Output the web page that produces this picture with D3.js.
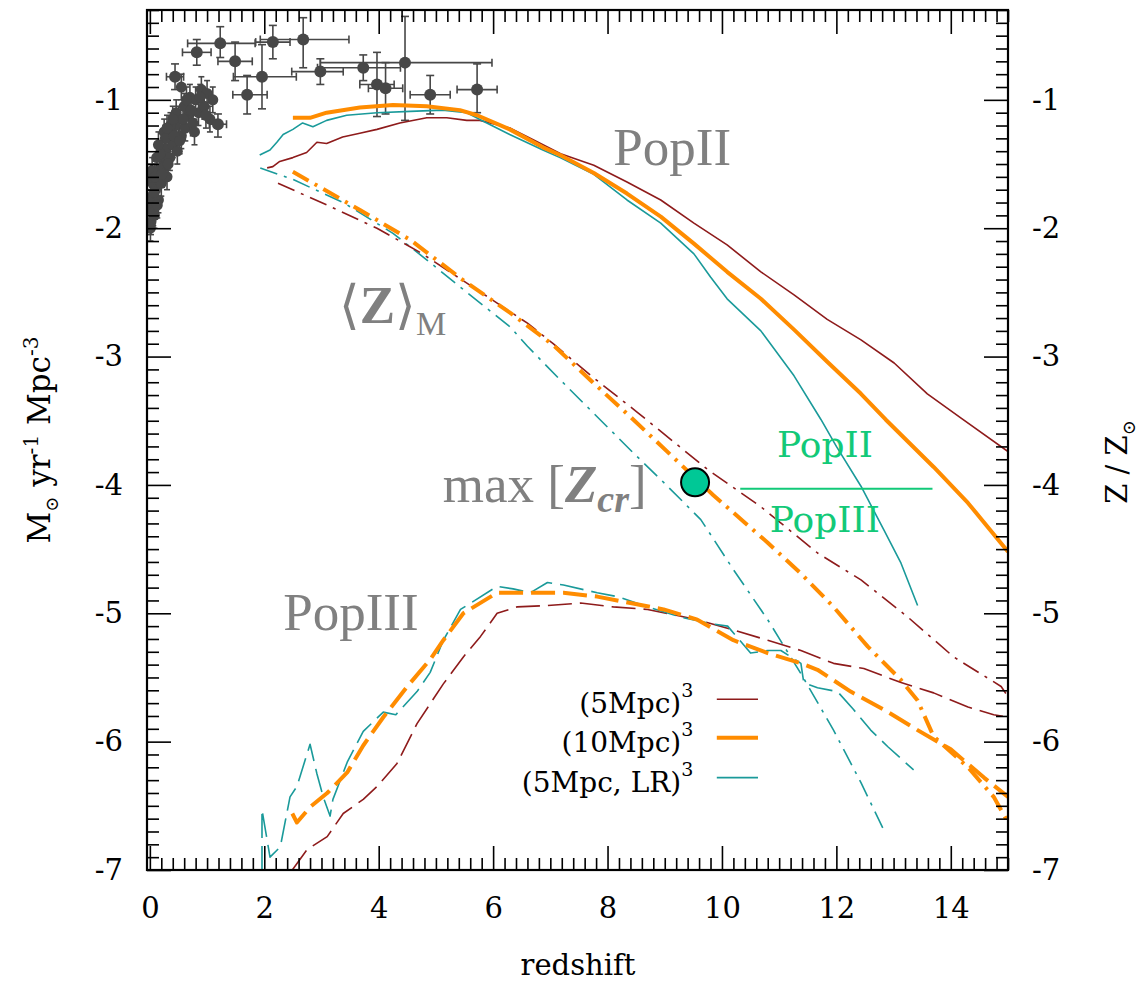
<!DOCTYPE html>
<html>
<head>
<meta charset="utf-8">
<script src="https://cdn.jsdelivr.net/npm/d3@7"></script>
<style>
  body { margin: 0; background: #fff; }
  .tick text { font-family: "DejaVu Serif", serif; font-size: 29px; fill: #000; }
</style>
</head>
<body>
<svg id="chart" width="1142" height="983"></svg>
<script>
// ---- data (redshift vs log value) ----
const xTicks = [0, 2, 4, 6, 8, 10, 12, 14];
const yTicks = [-7, -6, -5, -4, -3, -2, -1];

// PopII star formation rate (solid)
const popII_5_z   = [2.05,2.15,2.27,2.5,2.74,2.92,3.09,3.37,3.67,3.97,4.37,4.84,5.19,5.54,5.77,6.3,6.7,7.18,7.76,8.34,8.93,9.51,10.09,10.68,11.26,11.84,12.43,13.01,13.59,14.18,15.0];
const popII_5_v   = [-1.53,-1.52,-1.48,-1.45,-1.41,-1.33,-1.34,-1.29,-1.26,-1.23,-1.18,-1.14,-1.14,-1.16,-1.16,-1.22,-1.31,-1.42,-1.51,-1.64,-1.78,-1.96,-2.13,-2.34,-2.52,-2.71,-2.87,-3.05,-3.29,-3.48,-3.74];
const popII_10_z  = [2.5,2.8,3.09,3.67,4.25,4.84,5.42,5.72,6.29,6.87,7.17,7.76,8.34,8.93,9.51,10.09,10.68,11.26,11.84,12.43,12.86,13.7,14.3,15.0];
const popII_10_v  = [-1.14,-1.14,-1.10,-1.06,-1.04,-1.05,-1.08,-1.12,-1.23,-1.37,-1.43,-1.57,-1.73,-1.91,-2.12,-2.34,-2.55,-2.79,-3.04,-3.29,-3.49,-3.86,-4.14,-4.52];
const popII_LR_z  = [1.92,2.1,2.22,2.33,2.5,2.67,2.85,3.09,3.44,3.97,4.55,5.12,5.54,5.89,6.29,6.87,7.17,7.76,8.34,8.93,9.51,9.8,10.09,10.68,11.26,11.73,12.0,12.43,12.83,13.13,13.42];
const popII_LR_v  = [-1.43,-1.39,-1.33,-1.27,-1.23,-1.18,-1.21,-1.16,-1.12,-1.10,-1.09,-1.08,-1.10,-1.18,-1.27,-1.39,-1.45,-1.58,-1.78,-1.96,-2.20,-2.38,-2.55,-2.80,-3.15,-3.49,-3.70,-4.01,-4.35,-4.61,-4.94];

// mass-weighted metallicity <Z>_M (dash-dot)
const metal_5_z   = [2.24,3.10,3.97,4.73,5.72,6.60,7.05,7.74,8.51,9.75,10.68,11.67,12.43,13.25,14.05,14.88,15.0];
const metal_5_v   = [-1.65,-1.82,-2.00,-2.19,-2.48,-2.74,-2.90,-3.16,-3.43,-3.88,-4.17,-4.53,-4.74,-5.03,-5.34,-5.57,-5.65];
const metal_10_z  = [2.5,3.68,4.55,5.43,6.30,7.05,7.74,8.4,9.85,10.8,11.38,11.95,12.55,13.13,13.42,13.7,14.3,14.75,15.0];
const metal_10_v  = [-1.56,-1.86,-2.09,-2.39,-2.66,-2.91,-3.20,-3.47,-4.08,-4.45,-4.69,-4.95,-5.26,-5.52,-5.68,-5.96,-6.20,-6.43,-6.63];
const metal_LR_z  = [1.93,2.5,3.38,4.25,4.85,5.43,6.3,6.6,7.17,8.45,8.98,9.63,10.2,10.8,11.38,11.95,12.43,12.83];
const metal_LR_v  = [-1.53,-1.62,-1.80,-2.04,-2.25,-2.46,-2.77,-2.92,-3.18,-3.75,-3.98,-4.27,-4.66,-5.05,-5.47,-5.91,-6.32,-6.69];

// PopIII star formation rate (dashed)
const popIII_5_z  = [2.49,2.75,3.1,3.38,3.73,3.97,4.32,4.67,5.13,5.48,5.78,6.07,6.42,6.95,7.53,8.1,8.7,9.57,10.2,10.8,11.38,11.95,12.48,13.13,13.7,14.3,14.75,15.0];
const popIII_5_v  = [-7.0,-6.84,-6.74,-6.56,-6.45,-6.35,-6.17,-5.86,-5.55,-5.34,-5.18,-5.0,-4.95,-4.94,-4.92,-4.95,-4.97,-5.05,-5.13,-5.21,-5.29,-5.39,-5.43,-5.54,-5.62,-5.73,-5.79,-5.81];
const popIII_10_z = [2.49,2.57,2.8,3.1,3.45,3.73,4.08,4.5,4.9,5.13,5.48,6.07,6.65,7.23,7.82,8.4,8.98,9.57,10.2,10.8,11.38,11.67,12.25,12.83,13.42,14.0,14.58,15.0];
const popIII_10_v = [-6.56,-6.63,-6.51,-6.40,-6.24,-6.03,-5.81,-5.57,-5.36,-5.21,-5.0,-4.84,-4.84,-4.84,-4.87,-4.92,-4.97,-5.05,-5.21,-5.31,-5.39,-5.44,-5.61,-5.75,-5.91,-6.06,-6.28,-6.43];
const popIII_LR_z = [1.96,1.96,2.1,2.28,2.45,2.57,2.8,2.92,3.03,3.15,3.2,3.45,3.73,4.08,4.3,4.67,4.9,5.13,5.43,6.07,6.35,6.65,6.95,7.23,7.82,8.17,8.7,9.28,9.8,10.1,10.5,10.8,11.03,11.38,11.43,11.67,12.02,12.3,12.6,12.9,13.35];
const popIII_LR_v = [-7.0,-6.53,-6.9,-6.82,-6.43,-6.35,-6.02,-6.25,-6.43,-6.58,-6.45,-6.16,-5.92,-5.77,-5.79,-5.61,-5.46,-5.21,-4.97,-4.79,-4.81,-4.84,-4.76,-4.78,-4.84,-4.87,-4.95,-5.03,-5.08,-5.10,-5.31,-5.29,-5.29,-5.39,-5.54,-5.58,-5.61,-5.75,-5.91,-6.04,-6.22];

// observed star formation rate points with error bars
const obsZ     = [1.23,2.15,2.68,2.98,3.73,4.46,3.97,4.12,4.9,5.72,1.96,1.7,1.49,1.19,0.44,0.82];
const obsSFR   = [-0.56,-0.55,-0.53,-0.78,-0.75,-0.71,-0.88,-0.91,-0.96,-0.92,-0.82,-0.96,-0.70,-1.19,-0.82,-0.63];
const obsZlo   = [0.57,0.3,0.75,0.5,0.8,1.48,0.3,0.3,0.35,0.35,0.5,0.25,0.3,0.15,0.15,0.25];
const obsZhi   = [0.61,0.3,0.8,0.4,0.65,1.52,0.3,0.3,0.35,0.35,0.6,0.35,0.3,0.15,0.15,0.25];
const obsSFRlo = [0.11,0.13,0.22,0.1,0.1,0.45,0.25,0.2,0.15,0.18,0.25,0.15,0.15,0.1,0.1,0.1];
const obsSFRhi = [0.13,0.13,0.17,0.1,0.1,0.36,0.25,0.2,0.15,0.2,0.25,0.15,0.15,0.08,0.1,0.1];
const clusterZ   = [0.02,0.03,0.05,0.05,0.08,0.1,0.12,0.15,0.17,0.2,0.22,0.25,0.28,0.3,0.33,0.35,0.38,0.4,0.45,0.48,0.5,0.55,0.6,0.62,0.68,0.7,0.75,0.8,0.85,0.9,0.95,1.0,1.05,1.1,0.55,0.25,0.12,0.02,
                    0.0,0.01,0.04,0.06,0.09,0.13,0.18,0.21,0.27,0.32,0.36,0.42,0.46,0.52,0.58,0.64,0.72,0.78,0.88,0.98,0.15,0.07,0.3,0.4];
const clusterSFR = [-1.95,-1.85,-1.75,-1.65,-1.9,-1.7,-1.6,-1.78,-1.55,-1.65,-1.45,-1.52,-1.38,-1.6,-1.3,-1.45,-1.25,-1.35,-1.2,-1.4,-1.15,-1.28,-1.05,-1.22,-1.12,-0.98,-1.18,-1.0,-1.1,-0.92,-1.05,-0.95,-1.15,-1.0,-0.9,-1.25,-1.45,-1.6,
                    -1.8,-2.0,-1.55,-1.88,-1.6,-1.82,-1.42,-1.58,-1.3,-1.5,-1.2,-1.28,-1.1,-1.32,-1.15,-1.0,-1.08,-1.25,-0.98,-1.12,-1.35,-1.72,-1.22,-1.15];
const clusterZerr = 0.06, clusterSFRerr = 0.1;

const legendLabels = ['(5Mpc)', '(10Mpc)', '(5Mpc, LR)'];

// ---- chart ----
const svg = d3.select('#chart');
const x = d3.scaleLinear().domain([-0.05, 15]).range([147, 1008]);
const y = d3.scaleLinear().domain([-7, -0.3]).range([870, 10]);

const red = '#8e1b1b', orange = '#ff8c00', teal = '#1a9a9a', gray = '#808080', green = '#12c978';

svg.append('clipPath').attr('id', 'clip').append('rect')
    .attr('x', x.range()[0]).attr('y', y.range()[1])
    .attr('width', x.range()[1] - x.range()[0]).attr('height', y.range()[0] - y.range()[1]);

const plot = svg.append('g').attr('clip-path', 'url(#clip)');

// observations
const obsCol = '#474747';
const errG = plot.append('g').attr('stroke', obsCol).attr('stroke-width', 1.6);
function errorBar(z, v, zlo, zhi, vlo, vhi, cap) {
    errG.append('line').attr('x1', x(z - zlo)).attr('x2', x(z + zhi)).attr('y1', y(v)).attr('y2', y(v));
    errG.append('line').attr('x1', x(z)).attr('x2', x(z)).attr('y1', y(v - vlo)).attr('y2', y(v + vhi));
    [z - zlo, z + zhi].forEach(e => errG.append('line').attr('x1', x(e)).attr('x2', x(e)).attr('y1', y(v) - cap).attr('y2', y(v) + cap));
    [v - vlo, v + vhi].forEach(e => errG.append('line').attr('x1', x(z) - cap).attr('x2', x(z) + cap).attr('y1', y(e)).attr('y2', y(e)));
}
clusterZ.forEach((z, i) => errorBar(z, clusterSFR[i], clusterZerr, clusterZerr, clusterSFRerr, clusterSFRerr, 3));
obsZ.forEach((z, i) => errorBar(z, obsSFR[i], obsZlo[i], obsZhi[i], obsSFRlo[i], obsSFRhi[i], 4));
plot.append('g').selectAll('circle').data(d3.zip(clusterZ, clusterSFR)).join('circle')
    .attr('cx', d => x(d[0])).attr('cy', d => y(d[1])).attr('r', 5.5).attr('fill', obsCol);
plot.append('g').selectAll('circle').data(d3.zip(obsZ, obsSFR)).join('circle')
    .attr('cx', d => x(d[0])).attr('cy', d => y(d[1])).attr('r', 6).attr('fill', obsCol);

// model curves
const line = d3.line().x(d => x(d[0])).y(d => y(d[1]));
function drawCurve(zs, vs, color, width, dash) {
    plot.append('path').datum(d3.zip(zs, vs))
        .attr('fill', 'none').attr('stroke', color).attr('stroke-width', width)
        .attr('stroke-linejoin', 'round')
        .attr('stroke-dasharray', dash).attr('d', line);
}
const dashDot = '18,7,3,7', dashed = '24,8';
drawCurve(popII_5_z, popII_5_v, red, 1.6, null);
drawCurve(popII_LR_z, popII_LR_v, teal, 1.6, null);
drawCurve(popII_10_z, popII_10_v, orange, 4, null);
drawCurve(metal_LR_z, metal_LR_v, teal, 1.6, dashDot);
drawCurve(metal_5_z, metal_5_v, red, 1.6, dashDot);
drawCurve(metal_10_z, metal_10_v, orange, 4, dashDot);
drawCurve(popIII_5_z, popIII_5_v, red, 1.6, dashed);
drawCurve(popIII_LR_z, popIII_LR_v, teal, 1.6, dashed);
drawCurve(popIII_10_z, popIII_10_v, orange, 4, dashed);

// axes with inward ticks
const fmt = d => String(d);
const minorX = d3.range(0, 76).filter(i => i % 10 !== 0).map(i => i / 5);
const minorY = d3.range(-70, -2).filter(i => i % 10 !== 0).map(i => i / 10);
function axisPair(gen, scale, major, minor, tx, ty, pad, labels) {
    svg.append('g').attr('transform', `translate(${tx},${ty})`)
        .call(gen(scale).tickValues(minor).tickSize(-12).tickSizeOuter(0).tickFormat(''));
    svg.append('g').attr('transform', `translate(${tx},${ty})`)
        .call(gen(scale).tickValues(major).tickSize(-24).tickSizeOuter(0).tickPadding(pad).tickFormat(labels ? fmt : ''));
}
axisPair(d3.axisBottom, x, xTicks, minorX, 0, 870, 27, true);
axisPair(d3.axisTop, x, xTicks, minorX, 0, 10, 0, false);
axisPair(d3.axisLeft, y, yTicks, minorY, 147, 0, 24, true);
axisPair(d3.axisRight, y, yTicks, minorY, 1008, 0, 24, true);
svg.selectAll('.domain').remove();
svg.selectAll('.tick line').attr('stroke', '#000').attr('stroke-width', 1.6);

svg.append('rect').attr('x', 147).attr('y', 10).attr('width', 861).attr('height', 860)
    .attr('fill', 'none').attr('stroke', '#000').attr('stroke-width', 2.2);

// axis titles
const serif = '"DejaVu Serif", serif';
svg.append('text').attr('x', 578).attr('y', 975).attr('text-anchor', 'middle')
    .attr('font-family', serif).attr('font-size', 29).text('redshift');

const yl = svg.append('text').attr('transform', 'translate(50,440) rotate(-90)')
    .attr('text-anchor', 'middle').attr('font-family', serif).attr('font-size', 31);
yl.append('tspan').text('M');
yl.append('tspan').attr('font-size', 18).attr('dy', 8).text('\u2299');
yl.append('tspan').attr('dy', -8).text(' yr');
yl.append('tspan').attr('font-size', 20).attr('dy', -12).text('-1');
yl.append('tspan').attr('dy', 12).text(' Mpc');
yl.append('tspan').attr('font-size', 20).attr('dy', -12).text('-3');

const yr = svg.append('text').attr('transform', 'translate(1127,462) rotate(-90)')
    .attr('text-anchor', 'middle').attr('font-family', serif).attr('font-size', 29);
yr.append('tspan').text('Z / Z');
yr.append('tspan').attr('font-size', 18).attr('dy', 8).text('\u2299');

// annotations
const times = '"Liberation Serif", "Times New Roman", serif';
function gtext(zx, vy) {
    return svg.append('text').attr('x', x(zx)).attr('y', y(vy))
        .attr('font-family', times).attr('font-size', 53).attr('fill', gray);
}
gtext(8.1, -1.506).text('PopII');
gtext(2.33, -5.13).text('PopIII');
const zm = gtext(3.3, -2.74);
zm.append('tspan').text('\u27E8');
zm.append('tspan').attr('font-weight', 'bold').text('Z');
zm.append('tspan').text('\u27E9');
zm.append('tspan').attr('font-size', 34).attr('dy', 12).text('M');
const mz = gtext(5.12, -4.13);
mz.append('tspan').text('max [');
mz.append('tspan').attr('font-weight', 'bold').attr('font-style', 'italic').text('Z');
mz.append('tspan').attr('font-weight', 'bold').attr('font-style', 'italic').attr('font-size', 38).attr('dy', 10).text('cr');
mz.append('tspan').attr('dy', -10).text(']');

svg.append('text').attr('x', x(11.8)).attr('y', y(-3.78)).attr('text-anchor', 'middle')
    .attr('font-family', serif).attr('font-size', 36).attr('fill', green).text('PopII');
svg.append('text').attr('x', x(11.8)).attr('y', y(-4.37)).attr('text-anchor', 'middle')
    .attr('font-family', serif).attr('font-size', 36).attr('fill', green).text('PopIII');
svg.append('line').attr('x1', x(10.32)).attr('x2', x(13.68)).attr('y1', y(-4.03)).attr('y2', y(-4.03))
    .attr('stroke', green).attr('stroke-width', 2);
svg.append('circle').attr('cx', x(9.53)).attr('cy', y(-3.98)).attr('r', 14)
    .attr('fill', '#00c896').attr('stroke', '#000').attr('stroke-width', 2);

// legend
const legColors = [red, orange, teal], legWidths = [1.6, 4, 1.6];
const legRows = [-5.67, -5.97, -6.28];
legendLabels.forEach((lab, i) => {
    const t = svg.append('text').attr('x', x(9.5)).attr('y', y(legRows[i]) + 14)
        .attr('text-anchor', 'end').attr('font-family', serif).attr('font-size', 28);
    t.append('tspan').text(lab);
    t.append('tspan').attr('font-size', 19).attr('dy', -16).text('3');
    svg.append('line').attr('x1', x(9.91)).attr('x2', x(10.63))
        .attr('y1', y(legRows[i])).attr('y2', y(legRows[i]))
        .attr('stroke', legColors[i]).attr('stroke-width', legWidths[i]);
});
</script>
</body>
</html>
